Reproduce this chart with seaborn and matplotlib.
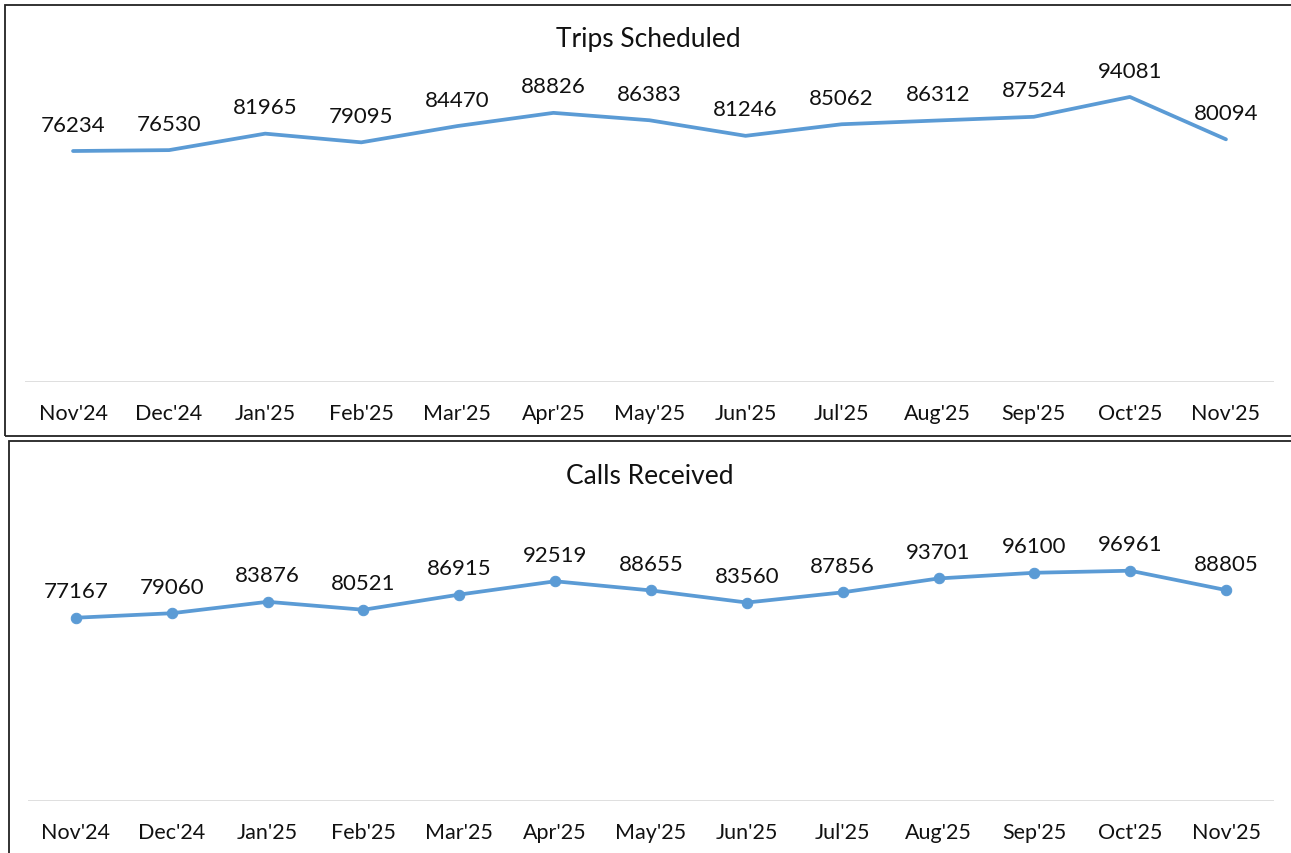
import matplotlib
matplotlib.use("Agg")
import matplotlib.pyplot as plt
import seaborn as sns
from matplotlib.patches import Rectangle

months = ["Nov'24", "Dec'24", "Jan'25", "Feb'25", "Mar'25", "Apr'25", "May'25",
          "Jun'25", "Jul'25", "Aug'25", "Sep'25", "Oct'25", "Nov'25"]
trips_scheduled = [76234, 76530, 81965, 79095, 84470, 88826, 86383,
                   81246, 85062, 86312, 87524, 94081, 80094]
calls_received = [77167, 79060, 83876, 80521, 86915, 92519, 88655,
                  83560, 87856, 93701, 96100, 96961, 88805]

sns.set_style("white")
plt.rcParams['font.family'] = ['Lato', 'DejaVu Sans']

W, H = 1291, 854
fig = plt.figure(figsize=(W / 100, H / 100), dpi=100)
line_color = "#5B9BD5"


def px_axes(left, right, top, bottom):
    return fig.add_axes([left / W, (H - bottom) / H, (right - left) / W, (bottom - top) / H])


def panel(ax, values, title, title_xy, ymax, marker):
    sns.lineplot(x=months, y=values, ax=ax, color=line_color, linewidth=2.7,
                 marker=marker, markersize=7.5 if marker else 0,
                 markeredgecolor=line_color, sort=False)
    for i, v in enumerate(values):
        ax.annotate(str(v), (i, v), xytext=(0, 19), textcoords="offset points",
                    ha="center", va="center", fontsize=16, color="#111111")
    ax.set_xlim(-0.5, len(months) - 0.5)
    ax.set_ylim(0, ymax)
    ax.axhline(0, color="#D9D9D9", linewidth=1.2, zorder=0)
    ax.set_yticks([])
    ax.set_xlabel("")
    ax.set_ylabel("")
    ax.tick_params(axis="x", length=0, pad=15, labelsize=15.5, labelcolor="#111111")
    for s in ax.spines.values():
        s.set_visible(False)
    ax.patch.set_alpha(0)
    fig.text(title_xy[0] / W, 1 - title_xy[1] / H, title, ha="center", va="center",
             fontsize=19, color="#111111")


# panel frames
fig.patches.append(Rectangle((4.5 / W, (H - 437) / H), (W + 5) / W, 431 / H, transform=fig.transFigure,
                             fill=False, edgecolor="#222222", linewidth=1.3))
fig.patches.append(Rectangle((8.5 / W, -0.01), (W + 5) / W, (H - 441.5) / H + 0.01, transform=fig.transFigure,
                             fill=False, edgecolor="#222222", linewidth=1.3))

ax1 = px_axes(25, 1274, 80, 383)
panel(ax1, trips_scheduled, "Trips Scheduled", (648, 40), 100000, None)

ax2 = px_axes(28, 1274, 517, 802)
panel(ax2, calls_received, "Calls Received", (650, 477), 120000, "o")

fig.savefig("out.png", dpi=100)
